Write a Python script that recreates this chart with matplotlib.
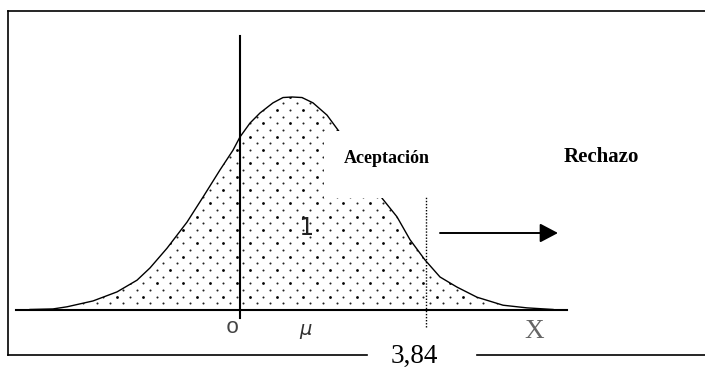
import numpy as np
import matplotlib
matplotlib.use("Agg")
import matplotlib.pyplot as plt
from matplotlib.patches import Polygon, Rectangle, FancyArrowPatch, ArrowStyle

# ---- data (x in chi-square units, y in density units) ----
curve_x = [-4.335, -3.861, -3.572, -3.035, -2.539, -2.126, -1.858, -1.507, -1.094,
           -0.764, -0.413, -0.145, 0.000, 0.206, 0.413, 0.681, 0.888, 1.074, 1.280,
           1.507, 1.796, 2.023, 2.271, 2.581, 2.932, 3.241, 3.510, 3.819, 4.129,
           4.480, 4.893, 5.430, 5.925, 6.462]
curve_y = [0.001, 0.002, 0.006, 0.017, 0.034, 0.056, 0.079, 0.116, 0.165,
           0.212, 0.263, 0.300, 0.325, 0.351, 0.370, 0.389, 0.399, 0.400, 0.399,
           0.389, 0.366, 0.338, 0.308, 0.263, 0.210, 0.175, 0.132, 0.094, 0.062,
           0.043, 0.024, 0.009, 0.004, 0.001]
critical_value = 3.84
critical_label = "3,84"
region_labels = ["Aceptación", "Rechazo"]
area_label = "1"
axis_labels = ["o", "μ", "X"]

# ---- pixel layout helpers (reference is 705x370 px) ----
W, H = 705, 370
X0, Y0 = 240.0, 310.0            # pixel position of the origin
SX = (426.0 - X0) / critical_value  # px per x unit
SY = 532.5                        # px per y unit


def dx(p):
    return (p - X0) / SX


def dy(p):
    return (Y0 - p) / SY


fig = plt.figure(figsize=(W / 100, H / 100), dpi=100)
ax = fig.add_axes([0, 0, 1, 1])
ax.set_xlim(dx(0), dx(W))
ax.set_ylim(dy(H), dy(0))
ax.axis("off")

# outer frame (bottom line broken by the 3,84 label)
flw = 1.2
ax.plot([dx(8), dx(W)], [dy(11), dy(11)], color="black", lw=flw)
ax.plot([dx(8), dx(8)], [dy(11), dy(354.5)], color="black", lw=flw)
ax.plot([dx(8), dx(367)], [dy(354.5), dy(354.5)], color="black", lw=flw)
ax.plot([dx(477), dx(W)], [dy(354.5), dy(354.5)], color="black", lw=flw)

# filled area under the curve (dotted texture)
poly_xy = list(zip(curve_x, curve_y)) + [(curve_x[-1], 0.0), (curve_x[0], 0.0)]
area = Polygon(poly_xy, closed=True, facecolor="white", edgecolor="none", zorder=1)
ax.add_patch(area)

step = 6.667
gx, gy, bold = [], [], []
for i in range(-40, 50):
    for j in range(-25, 12):
        if (i + j) % 2:
            continue
        px = 250 + step * i
        py = 243.3 + step * j
        if px < 20 or px > 560 or py < 80 or py > 308:
            continue
        gx.append(dx(px))
        gy.append(dy(py))
        bold.append(j % 2 == 0 and (i + j) % 4 == 0)
gx = np.array(gx); gy = np.array(gy); bold = np.array(bold)
s1 = ax.scatter(gx[~bold], gy[~bold], s=2.2, color="#222222", linewidths=0, zorder=2)
s2 = ax.scatter(gx[bold], gy[bold], s=4.0, color="black", linewidths=0, zorder=2)
s1.set_clip_path(area)
s2.set_clip_path(area)

# the density curve
ax.plot(curve_x, curve_y, color="black", lw=1.0, zorder=3)

# white box behind "Aceptación" that hides part of the curve
ax.add_patch(Rectangle((dx(324), dy(198)), dx(445) - dx(324), dy(131) - dy(198),
                       facecolor="white", edgecolor="none", zorder=4))

# axes lines
ax.plot([dx(16), dx(567)], [0, 0], color="black", lw=1.5, zorder=5)
ax.plot([0, 0], [dy(318), dy(36)], color="black", lw=1.5, zorder=5)

# critical value dotted line
ax.plot([critical_value, critical_value], [dy(327), dy(197)], color="black",
        lw=1.0, linestyle=(0, (1, 1.2)), zorder=5)

# arrow into the rejection region
arrow = FancyArrowPatch((dx(440), dy(233)), (dx(558), dy(233)),
                        arrowstyle=ArrowStyle("-|>", head_length=11, head_width=5.8),
                        mutation_scale=1, color="black", lw=1.4,
                        shrinkA=0, shrinkB=0, zorder=6)
ax.add_patch(arrow)

# texts
ax.text(dx(344), dy(163), region_labels[0], fontfamily="Liberation Serif",
        fontweight="bold", fontsize=13, ha="left", va="baseline", zorder=7)
ax.text(dx(564), dy(162), region_labels[1], fontfamily="Liberation Serif",
        fontweight="bold", fontsize=15, ha="left", va="baseline", zorder=7)
ax.text(dx(305), dy(235), area_label, fontfamily="DejaVu Sans Mono",
        fontsize=17.5, ha="center", va="baseline", color="#222222", zorder=7)
ax.text(dx(232), dy(333), axis_labels[0], fontfamily="Liberation Mono",
        fontsize=16, ha="center", va="baseline", color="#444444", zorder=7)
ax.text(dx(305), dy(335), axis_labels[1], fontfamily="DejaVu Sans",
        fontstyle="oblique", fontsize=14, ha="center", va="baseline",
        color="#333333", zorder=7)
ax.text(dx(534), dy(338), axis_labels[2], fontfamily="Liberation Serif",
        fontsize=19.5, ha="center", va="baseline", color="#666666", zorder=7)
ax.text(dx(414), dy(363), critical_label, fontfamily="Liberation Serif",
        fontsize=19.5, ha="center", va="baseline", color="black", zorder=7)

fig.savefig("out.png", dpi=100)
